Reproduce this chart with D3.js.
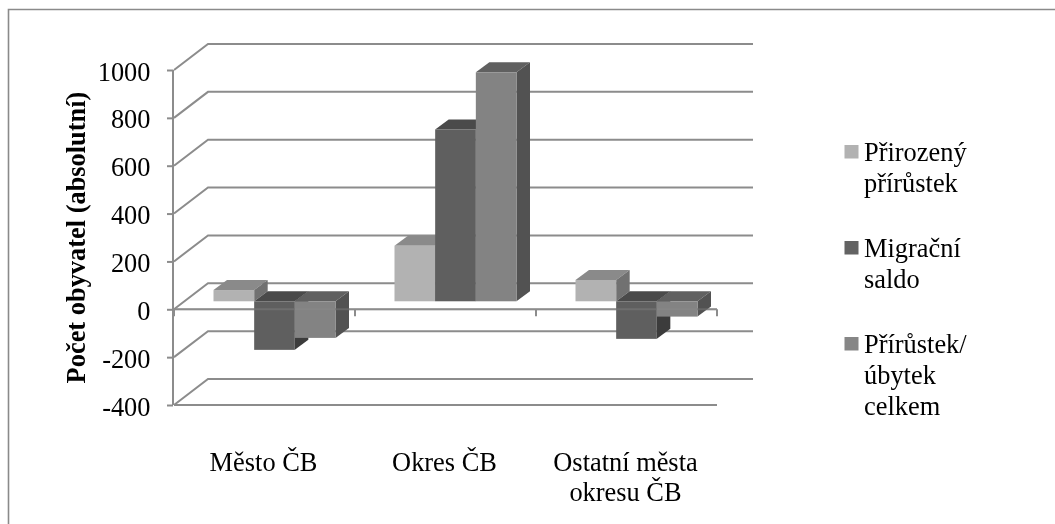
<!DOCTYPE html>
<html><head><meta charset="utf-8">
<script src="https://cdn.jsdelivr.net/npm/d3@7"></script>
<style>html,body{margin:0;padding:0;background:#fff;overflow:hidden}svg{display:block;filter:blur(.35px)}text{font-family:"Liberation Serif",serif;fill:#000}</style>
</head><body><div id="c"></div>
<script>
const categories = ["Město ČB","Okres ČB","Ostatní města okresu ČB"];
const categoryLines = [["Město ČB"],["Okres ČB"],["Ostatní města","okresu ČB"]];
const seriesNames = ["Přirozený přírůstek","Migrační saldo","Přírůstek/ úbytek celkem"];
const legendLines = [["Přirozený","přírůstek"],["Migrační","saldo"],["Přírůstek/","úbytek","celkem"]];
const prirozeny = [47,232,89];
const migracni = [-203,718,-157];
const celkem = [-153,957,-64];
const tickValues = [-400,-200,0,200,400,600,800,1000];
const seriesValues = [prirozeny,migracni,celkem];
const frontColors = ["#b2b2b2","#5f5f5f","#838383"];
const topColors = ["#8a8a8a","#4a4a4a","#606060"];
const sideColors = ["#717171","#3c3c3c","#525252"];
const legendColors = ["#b2b2b2","#636363","#868686"];

const W=1055,H=524, gridC="#8c8c8c", fs=26.4;
const svg=d3.select("#c").append("svg").attr("width",W).attr("height",H);
svg.append("path").attr("d",`M8.5,${H}V9.5H${W}`).attr("fill","none").attr("stroke","#8a8a8a").attr("stroke-width",1.6);

const y=d3.scaleLinear().domain([-400,1000]).range([405,70]);
const x0=d3.scaleBand().domain(categories).range([174,717]);
const xs=d3.scaleBand().domain(d3.range(3)).range([39.5,161.5]);
const [xL,xR]=x0.range();
const depth={x:34,y:-26}, bd={x:13.5,y:-10};

// walls and floor
const g=svg.append("g").attr("fill","none").attr("stroke",gridC).attr("stroke-width",2);
tickValues.forEach(t=>{
  g.append("path").attr("d",`M${xL},${y(t)}L${xL+depth.x},${y(t)+depth.y}H${xR+depth.x+2}`);
});
g.append("line").attr("x1",xL).attr("x2",xR).attr("y1",y(-400)).attr("y2",y(-400));

// zero axis, behind the bars
const zero=svg.append("g").attr("stroke",gridC).attr("fill","none").attr("stroke-width",2);
zero.append("line").attr("x1",xL).attr("x2",xR).attr("y1",y(0)).attr("y2",y(0));
[xL,...categories.map(c=>x0(c)+x0.bandwidth())].forEach(px=>{
  zero.append("line").attr("x1",px).attr("x2",px).attr("y1",y(0)).attr("y2",y(0)+7);
});

// bars
const barsG=svg.append("g");
const base=y(0)-8;
categories.forEach((c,ci)=>{
  d3.range(3).forEach(si=>{
    const v=seriesValues[si][ci];
    const l=x0(c)+xs(si), r=l+xs.bandwidth();
    const top=base-(y(0)-y(Math.max(v,0))), bot=base+(y(Math.min(v,0))-y(0));
    const gb=barsG.append("g");
    gb.append("path").attr("fill",topColors[si]).attr("d",`M${l},${top}L${l+bd.x},${top+bd.y}H${r+bd.x}L${r},${top}Z`);
    gb.append("path").attr("fill",sideColors[si]).attr("d",`M${r},${top}L${r+bd.x},${top+bd.y}V${bot+bd.y}L${r},${bot}Z`);
    gb.append("rect").attr("x",l).attr("y",top).attr("width",r-l).attr("height",bot-top).attr("fill",frontColors[si]);
  });
});

// faint zero line showing through the bars
svg.append("line").attr("x1",xL).attr("x2",xR).attr("y1",y(0)).attr("y2",y(0)).attr("stroke",gridC).attr("stroke-width",2).attr("stroke-opacity",0.35);

// y axis
const ax=svg.append("g").attr("transform",`translate(${xL-1},0)`).call(d3.axisLeft(y).tickValues(tickValues).tickSize(6).tickPadding(16).tickFormat(d=>String(d)));
ax.selectAll("line,path").attr("stroke",gridC).attr("stroke-width",2);
ax.select(".domain").attr("d",`M0,${y(1000)}V${y(-400)}`);
ax.selectAll("text").attr("font-size",fs).attr("dy","0.38em").attr("x",-22.5).style("font-family",'"Liberation Serif",serif').attr("fill","#000");

// y title
svg.append("text").attr("transform","translate(85,237.5) rotate(-90)").attr("text-anchor","middle").attr("font-size",fs).attr("font-weight","bold").text("Počet obyvatel (absolutní)");

// categories
categories.forEach((c,i)=>{
  const cx=x0(c)+x0.bandwidth()/2-1;
  categoryLines[i].forEach((t,j)=>{
    svg.append("text").attr("x",cx).attr("y",470.7+j*30.5).attr("text-anchor","middle").attr("font-size",fs).text(t);
  });
});

// legend
const legY=[145,241,337];
seriesNames.forEach((s,i)=>{
  svg.append("rect").attr("x",844.5).attr("y",legY[i]).attr("width",14).attr("height",13.5).attr("fill",legendColors[i]);
  legendLines[i].forEach((t,j)=>{
    svg.append("text").attr("x",864).attr("y",legY[i]+15.7+j*31).attr("font-size",fs).text(t);
  });
});
</script></body></html>
